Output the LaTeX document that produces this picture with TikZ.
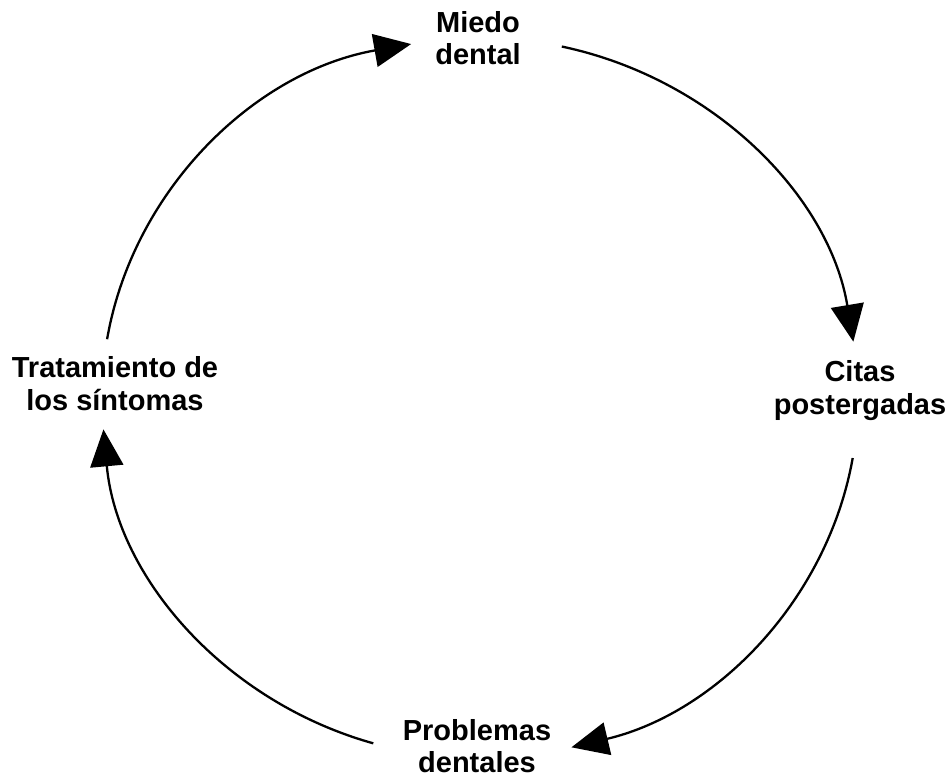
\documentclass[tikz,border=0pt]{standalone}
\usepackage{fontspec}
\setmainfont{Liberation Sans}
\usetikzlibrary{arrows.meta,calc}
\begin{document}
\begin{tikzpicture}[x=1pt,y=1pt,
  lbl/.style={font=\fontsize{29}{32}\selectfont\bfseries, align=center, anchor=base, inner sep=0pt},
  cyc/.style={line width=2.3pt, -{Triangle[length=37pt,width=33pt]}}]
\useasboundingbox[fill=white] (0,0) rectangle (950,780);
\coordinate (c) at (480,382);
\node[lbl] (miedo) at (478,715) {Miedo\\dental};
\node[lbl] (citas) at (860,366) {Citas\\postergadas};
\node[lbl] (problemas) at (477,8) {Problemas\\dentales};
\node[lbl] (trat) at (115,370) {Tratamiento de\\los síntomas};
\coordinate (s1) at ($(c)+(77.5:378pt and 360pt)$);
\coordinate (s2) at ($(c)+(-9.6:378pt and 360pt)$);
\coordinate (s3) at ($(c)+(253.6:378pt and 360pt)$);
\coordinate (s4) at ($(c)+(170.6:378pt and 360pt)$);
\draw[cyc] (s1) arc[start angle=77.5, end angle=9, x radius=378pt, y radius=360pt];
\draw[cyc] (s2) arc[start angle=-9.6, end angle=-76, x radius=378pt, y radius=360pt];
\draw[cyc] (s3) arc[start angle=253.6, end angle=185, x radius=378pt, y radius=360pt];
\draw[cyc] (s4) arc[start angle=170.6, end angle=100.5, x radius=378pt, y radius=360pt];
\end{tikzpicture}
\end{document}
